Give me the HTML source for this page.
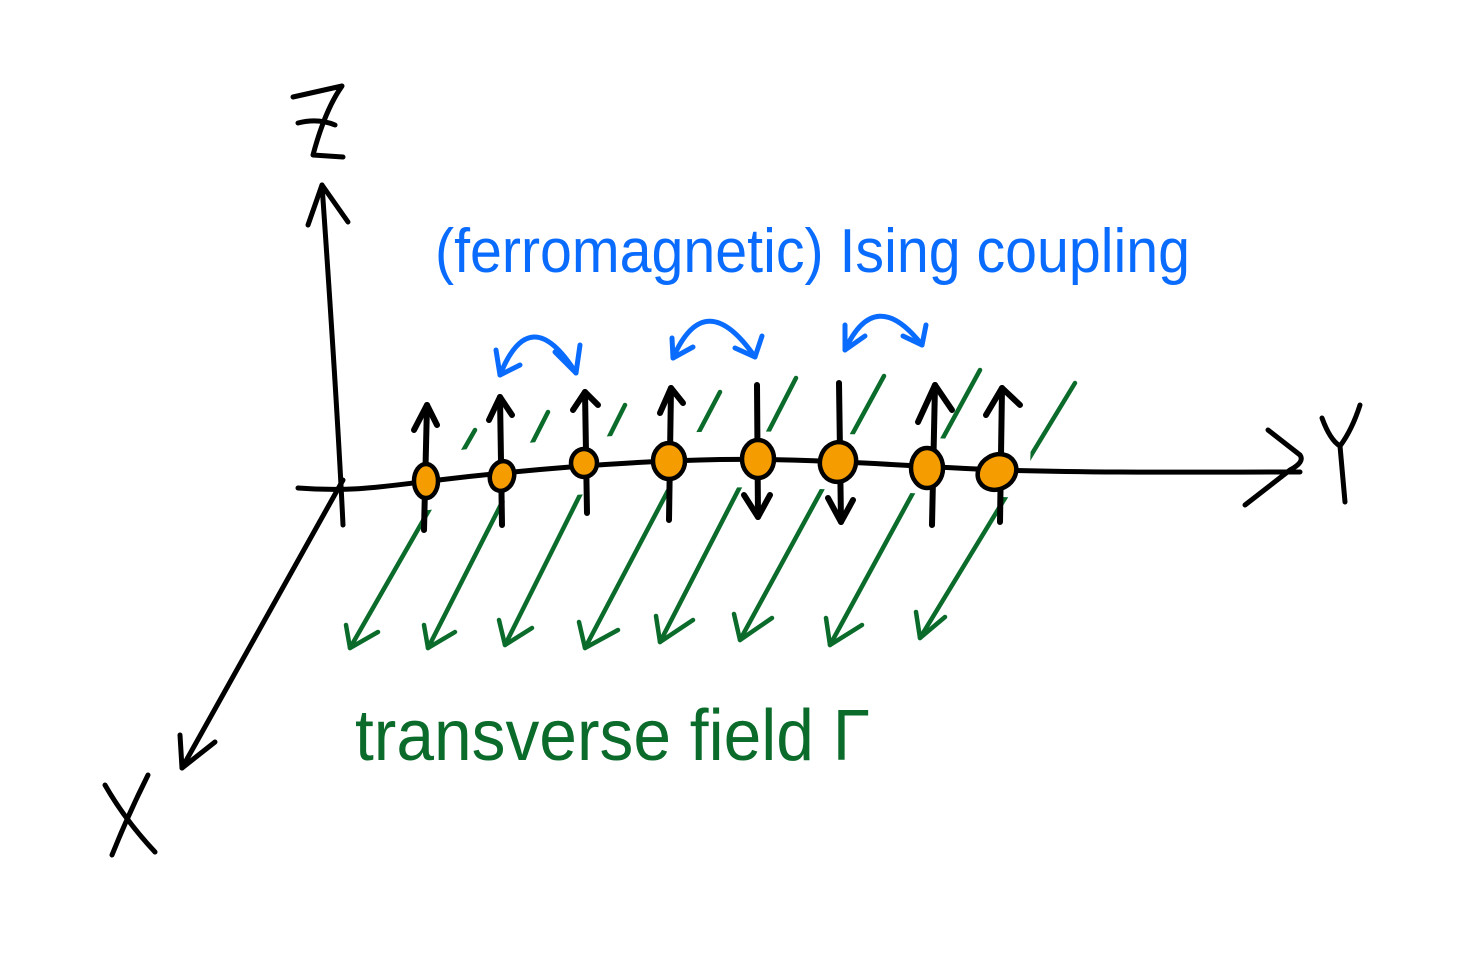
<!DOCTYPE html>
<html><head><meta charset="utf-8"><style>
html,body{margin:0;padding:0;background:#fff;width:1458px;height:962px;overflow:hidden}
svg{display:block}
</style></head><body>
<svg width="1458" height="962" viewBox="0 0 1458 962" xmlns="http://www.w3.org/2000/svg">
<g fill="none" stroke-linecap="round" stroke-linejoin="round">
<!-- green field arrows -->
<g stroke="#0a6b2a" stroke-width="4.5">
<path d="M350,648 L475,430"/><path d="M346,625 L350,648 L378,632"/>
<path d="M428,648 L548,412"/><path d="M424,625 L428,648 L455,632"/>
<path d="M505,645 L625,405"/><path d="M499,620 L505,645 L532,628"/>
<path d="M585,648 L720,392"/><path d="M579,622 L585,648 L618,630"/>
<path d="M660,642 L796,378"/><path d="M656,616 L660,642 L693,620"/>
<path d="M740,640 L884,376"/><path d="M734,614 L740,640 L772,618"/>
<path d="M830,645 L980,370"/><path d="M826,618 L830,645 L862,625"/>
<path d="M920,638 L1075,383"/><path d="M916,612 L920,638 L945,617"/>
</g>
<!-- white breaks around chain -->
<path d="M395,486 C520,470 620,462 700,460 C800,457 900,466 1030,470" stroke="#fff" stroke-width="56" stroke-linecap="butt"/>
<!-- axes -->
<g stroke="#000" stroke-width="5">
<path d="M343,525 C338,420 330,300 322,185"/>
<path d="M308,225 L322,185 L348,222"/>
<path d="M343,480 L182,768"/>
<path d="M180,735 L182,768 L215,742"/>
<path d="M298,488 C350,492 380,487 430,481 C520,470 620,462 700,460 C800,457 900,466 1000,470 C1100,473 1200,472 1300,472"/>
<path d="M1268,430 L1300,455 Q1305,462 1290,470 L1245,505"/>
<!-- Z -->
<path d="M293,97 L342,86 Q325,110 313,155 L343,157"/>
<path d="M298,123 Q318,118 335,125"/>
<!-- Y -->
<path d="M1322,418 Q1330,440 1340,446 Q1352,430 1360,405"/>
<path d="M1340,446 L1345,502"/>
<!-- X -->
<path d="M105,785 Q125,820 155,852"/>
<path d="M148,775 Q128,815 112,855"/>
</g>
<!-- spins -->
<g stroke="#000" stroke-width="6">
<path d="M424,530 L427,405"/><path d="M414,430 L427,405 L437,425"/>
<path d="M502,525 L500,397"/><path d="M489,420 L500,397 L512,415"/>
<path d="M587,513 L585,392"/><path d="M573,410 L585,392 L598,405"/>
<path d="M669,520 L671,388"/><path d="M660,413 L671,388 L683,403"/>
<path d="M757,385 L758,517"/><path d="M744,495 L758,517 L770,495"/>
<path d="M839,383 L841,522"/><path d="M828,498 L841,522 L853,500"/>
<path d="M932,525 L935,385"/><path d="M918,422 L935,385 L952,410"/>
<path d="M1000,522 L1002,388"/><path d="M986,415 L1002,388 L1020,405"/>
</g>
<g stroke="#000" stroke-width="4.5" fill="#f59d00">
<ellipse cx="426" cy="481" rx="12" ry="17"/>
<ellipse cx="502" cy="476" rx="12" ry="15" transform="rotate(15 502 476)"/>
<ellipse cx="584" cy="463" rx="13" ry="14"/>
<ellipse cx="669" cy="461" rx="16" ry="18"/>
<ellipse cx="758" cy="459" rx="16" ry="19"/>
<ellipse cx="838" cy="462" rx="18" ry="20" transform="rotate(15 838 462)"/>
<ellipse cx="927" cy="468" rx="16" ry="20"/>
<ellipse cx="997" cy="472" rx="20" ry="17" transform="rotate(-30 997 472)"/>
</g>
<!-- blue arcs -->
<g stroke="#0a6cff" stroke-width="5">
<path d="M500,375 Q530,300 576,373"/><path d="M496,350 L500,375 L520,365"/><path d="M555,352 L576,373 L580,345"/>
<path d="M673,358 Q705,285 755,357"/><path d="M672,338 L673,358 L693,347"/><path d="M735,348 L755,357 L762,336"/>
<path d="M845,350 Q875,285 922,345"/><path d="M845,325 L845,350 L865,336"/><path d="M903,336 L922,345 L926,325"/>
</g>
</g>
<text x="435" y="272" font-family="'Liberation Sans',sans-serif" font-size="62" fill="#0a6cff" textLength="755" lengthAdjust="spacingAndGlyphs">(ferromagnetic) Ising coupling</text>
<text x="355" y="760" font-family="'Liberation Sans',sans-serif" font-size="72" fill="#0a6b2a" textLength="515" lengthAdjust="spacingAndGlyphs">transverse field Γ</text>
</svg>
</body></html>
